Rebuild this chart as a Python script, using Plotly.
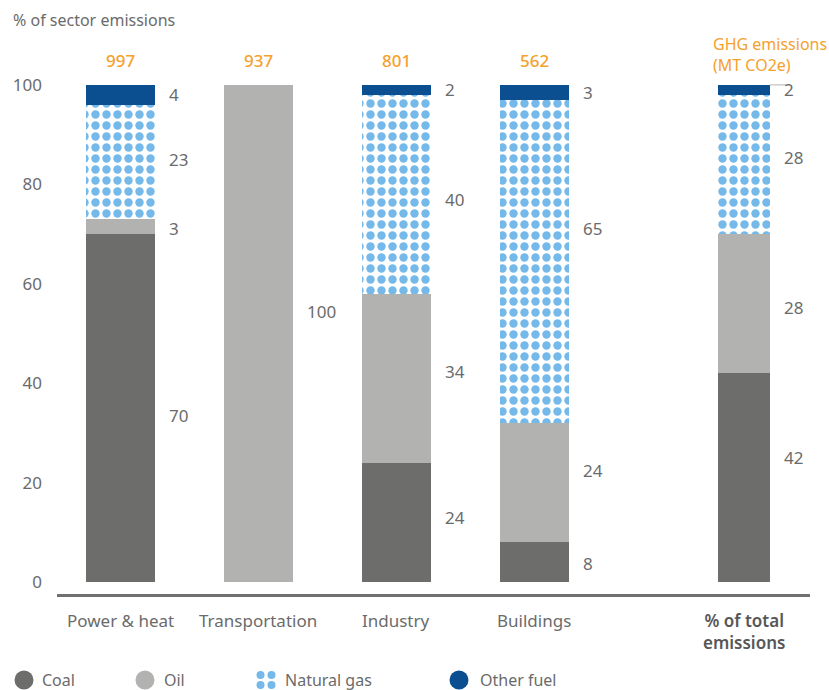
import plotly.graph_objects as go

# ---- data -------------------------------------------------------------
categories = ["Power & heat", "Transportation", "Industry", "Buildings",
              "% of total<br>emissions"]
coal = [70, 0, 24, 8, 42]
oil = [3, 100, 34, 24, 28]
natural_gas = [23, 0, 40, 65, 28]
other_fuel = [4, 0, 2, 3, 2]
ghg_mt_co2e = [997, 937, 801, 562, None]
y_ticks = [0, 20, 40, 60, 80, 100]

fuel_names = ["Coal", "Oil", "Natural gas", "Other fuel"]
fuel_values = [coal, oil, natural_gas, other_fuel]

# ---- styling ----------------------------------------------------------
COAL = "#6d6d6b"
OIL = "#b2b2b1"
GAS = "#74b9ea"
OTHER = "#0b4f91"
ORANGE = "#f5a12c"
TEXT = "#6b6b6b"
FONT = "Noto Sans"

x_pos = [0, 1, 2, 3, 4.52]
bar_w = [0.5, 0.5, 0.5, 0.5, 0.377]

# vertical nudges (px) for the segment value labels, per fuel then category
label_nudge = [
    [-8, 0, 5, -1, 20],
    [-2, 22, 7, 12, -4],
    [2, 0, -5, 33, 7],
    [0, 0, 0, 0, 0],
]

W, H = 829, 690
M = dict(l=57, r=19, t=65, b=96)
PW = W - M["l"] - M["r"]
PH = H - M["t"] - M["b"]


def px_x(px):
    return (px - M["l"]) / PW


def px_y(py):
    return (H - M["b"] - py) / PH


fig = go.Figure()

fig.add_trace(go.Bar(x=x_pos, y=coal, width=bar_w, name="Coal",
                     marker=dict(color=COAL, line=dict(width=0))))
fig.add_trace(go.Bar(x=x_pos, y=oil, width=bar_w, name="Oil",
                     marker=dict(color=OIL, line=dict(width=0))))
fig.add_trace(go.Bar(x=x_pos, y=natural_gas, width=bar_w, name="Natural gas",
                     marker=dict(color="white", line=dict(width=0),
                                 pattern=dict(shape=".", fgcolor=GAS,
                                              bgcolor="white", size=11,
                                              solidity=0.46, fgopacity=1,
                                              fillmode="overlay"))))
fig.add_trace(go.Bar(x=x_pos, y=other_fuel, width=bar_w, name="Other fuel",
                     marker=dict(color=OTHER, line=dict(width=0))))
fig.update_traces(showlegend=False, hoverinfo="skip")

annotations = []

# segment value labels to the right of each bar
for f, vals in enumerate(fuel_values):
    for i, v in enumerate(vals):
        if not v:
            continue
        base = sum(fuel_values[k][i] for k in range(f))
        annotations.append(dict(
            x=x_pos[i] + bar_w[i] / 2, y=base + v / 2, xref="x", yref="y",
            text=str(v), showarrow=False, xanchor="left", yanchor="middle",
            xshift=12, yshift=label_nudge[f][i],
            font=dict(family=FONT, size=17, color=TEXT)))

# emissions totals above bars
for i, g in enumerate(ghg_mt_co2e):
    if g is None:
        continue
    annotations.append(dict(
        x=x_pos[i], y=100, xref="x", yref="y", text=str(g), showarrow=False,
        xanchor="center", yanchor="bottom", yshift=11,
        font=dict(family=FONT, size=17, color=ORANGE, weight=500)))

annotations.append(dict(
    x=px_x(711), y=px_y(31), xref="paper", yref="paper",
    text="GHG emissions<br>(MT CO2e)", showarrow=False, xanchor="left",
    yanchor="top", align="left",
    font=dict(family=FONT, size=16, color=ORANGE)))

annotations.append(dict(
    x=px_x(11), y=px_y(20), xref="paper", yref="paper",
    text="% of sector emissions", showarrow=False, xanchor="left",
    yanchor="middle", font=dict(family=FONT, size=16, color=TEXT)))

# category labels under the axis
for i, c in enumerate(categories):
    last = i == len(categories) - 1
    annotations.append(dict(
        x=x_pos[i], y=px_y(607), xref="x", yref="paper", text=c,
        showarrow=False, xanchor="center", yanchor="top", align="center",
        font=dict(family=FONT, size=17, color="#575757" if last else TEXT,
                  weight=600 if last else 400)))

# legend
legend_items = [("Coal", COAL, 24, 40), ("Oil", OIL, 145, 162),
                ("Natural gas", GAS, 266, 283), ("Other fuel", OTHER, 459, 478)]
shapes = []
LY = px_y(680)
for name, col, cx, tx in legend_items:
    if name == "Natural gas":
        for dx in (-5.5, 5.5):
            for dy in (-5, 5):
                shapes.append(dict(
                    type="circle", xref="paper", yref="paper",
                    xsizemode="pixel", ysizemode="pixel",
                    xanchor=px_x(cx), yanchor=LY,
                    x0=dx - 4, x1=dx + 4, y0=dy - 4, y1=dy + 4,
                    fillcolor=col, line=dict(width=0)))
    else:
        shapes.append(dict(
            type="circle", xref="paper", yref="paper",
            xsizemode="pixel", ysizemode="pixel",
            xanchor=px_x(cx), yanchor=LY, x0=-9.5, x1=9.5, y0=-9.5, y1=9.5,
            fillcolor=col, line=dict(width=0)))
    annotations.append(dict(
        x=px_x(tx), y=LY, xref="paper", yref="paper", text=name,
        showarrow=False, xanchor="left", yanchor="middle",
        font=dict(family=FONT, size=16, color=TEXT)))

# thin leader from the last bar's top segment to its label
x_edge = x_pos[-1] + bar_w[-1] / 2
shapes.append(dict(type="line", xref="x", yref="y", x0=x_edge,
                   x1=x_edge + 0.145, y0=100, y1=100,
                   line=dict(color="#b5b5b5", width=1)))

fig.update_layout(
    width=W, height=H, margin=M, barmode="stack", bargap=0,
    paper_bgcolor="white", plot_bgcolor="white",
    font=dict(family=FONT, color=TEXT),
    annotations=annotations, shapes=shapes, showlegend=False,
    xaxis=dict(range=[-0.457, 5.0], showticklabels=False, showgrid=False,
               zeroline=False, showline=True, linecolor="#707070",
               linewidth=3, ticks=""),
    yaxis=dict(range=[-2.42, 104], tickvals=y_ticks, showgrid=False,
               zeroline=False, showline=False, ticks="",
               ticklabelstandoff=14,
               tickfont=dict(family=FONT, size=17, color=TEXT)),
)

fig.write_html("out.html")
